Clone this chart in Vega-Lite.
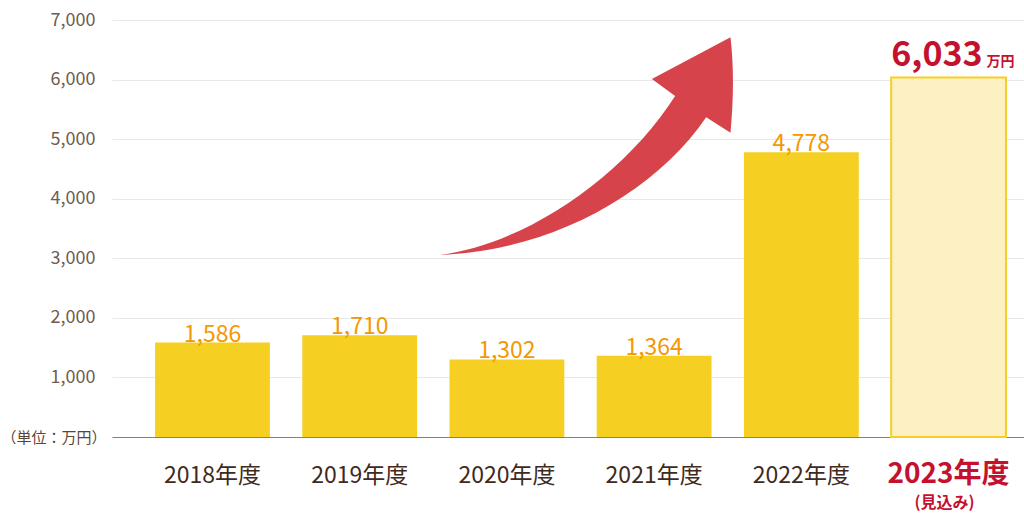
{
  "$schema": "https://vega.github.io/schema/vega-lite/v6.json",
  "width": 912,
  "height": 417,
  "autosize": {"type": "none"},
  "padding": {"left": 112, "top": 20, "right": 0, "bottom": 85},
  "background": "white",
  "config": {"font": "Noto Sans CJK JP", "view": {"stroke": null}},
  "data": {"values": [
    {"year": "2018年度", "value": 1586, "status": "実績"},
    {"year": "2019年度", "value": 1710, "status": "実績"},
    {"year": "2020年度", "value": 1302, "status": "実績"},
    {"year": "2021年度", "value": 1364, "status": "実績"},
    {"year": "2022年度", "value": 4778, "status": "実績"},
    {"year": "2023年度", "value": 6033, "status": "見込み"}
  ]},
  "encoding": {
    "x": {
      "field": "year", "type": "nominal", "sort": null,
      "scale": {"paddingInner": 0.22, "paddingOuter": 0.2075, "align": 0.705},
      "axis": {
        "title": null, "grid": false, "ticks": false, "tickSize": 0,
        "domainColor": "#8b7d70", "domainWidth": 1,
        "labelAngle": 0, "labelPadding": 45, "labelBaseline": "alphabetic",
        "labelFontSize": {"condition": {"test": "datum.value === '2023年度'", "value": 28}, "value": 23},
        "labelFontWeight": {"condition": {"test": "datum.value === '2023年度'", "value": "bold"}, "value": "normal"},
        "labelColor": {"condition": {"test": "datum.value === '2023年度'", "value": "#c4112f"}, "value": "#3f2a1d"}
      }
    },
    "y": {
      "field": "value", "type": "quantitative",
      "scale": {"domain": [0, 7000], "nice": false},
      "axis": {
        "values": [1000, 2000, 3000, 4000, 5000, 6000, 7000],
        "format": ",.0f", "domain": false, "ticks": false, "tickSize": 0,
        "grid": true, "gridColor": "#e8e8e8", "gridWidth": 1,
        "labelPadding": 17, "labelFontSize": 18, "labelColor": "#6f5c50",
        "title": "（単位：万円）", "titleAngle": 0, "titleAlign": "left", "titleBaseline": "middle",
        "titleX": -111, "titleY": 417, "titleFontSize": 15, "titleFontWeight": "normal", "titleColor": "#5a4636"
      }
    }
  },
  "layer": [
    {
      "transform": [{"filter": "datum.status === '実績'"}],
      "mark": {"type": "bar", "color": "#f5d022"}
    },
    {
      "transform": [{"filter": "datum.status === '見込み'"}],
      "mark": {"type": "bar", "fill": "#fdf0c2", "stroke": "#f5d022", "strokeWidth": 2}
    },
    {
      "transform": [{"filter": "datum.status === '実績'"}],
      "mark": {"type": "text", "color": "#f39800", "fontSize": 23, "baseline": "alphabetic", "dy": -1},
      "encoding": {"text": {"field": "value", "type": "quantitative", "format": ",.0f"}}
    },
    {
      "transform": [{"filter": "datum.status === '見込み'"}],
      "mark": {"type": "text", "color": "#c4112f", "fontSize": 34, "fontWeight": "bold", "align": "right", "baseline": "alphabetic", "dx": 34, "dy": -12},
      "encoding": {"text": {"field": "value", "type": "quantitative", "format": ",.0f"}}
    },
    {
      "transform": [{"filter": "datum.status === '見込み'"}],
      "mark": {"type": "text", "color": "#c4112f", "fontSize": 14, "fontWeight": "bold", "align": "left", "baseline": "alphabetic", "dx": 38, "dy": -12},
      "encoding": {"text": {"value": "万円"}}
    },
    {
      "transform": [{"filter": "datum.status === '見込み'"}],
      "mark": {"type": "text", "color": "#c4112f", "fontSize": 16, "fontWeight": "bold", "align": "center", "baseline": "alphabetic", "dx": -4, "dy": 71},
      "encoding": {"y": {"datum": 0}, "text": {"value": "(見込み)"}}
    },
    {
      "transform": [{"filter": "datum.year === '2021年度'"}],
      "mark": {
        "type": "point", "filled": true, "color": "#d7434b", "opacity": 1, "strokeWidth": 0, "size": 90000,
        "shape": "M -1.431 0.772 C -0.853 0.699 -0.203 0.249 0.14 -0.288 L -0.015 -0.401 L 0.509 -0.679 Q 0.542 -0.401 0.509 -0.043 L 0.347 -0.146 C -0.003 0.369 -0.703 0.749 -1.431 0.772 Z"
      },
      "encoding": {"y": {"datum": 5000}}
    }
  ]
}
